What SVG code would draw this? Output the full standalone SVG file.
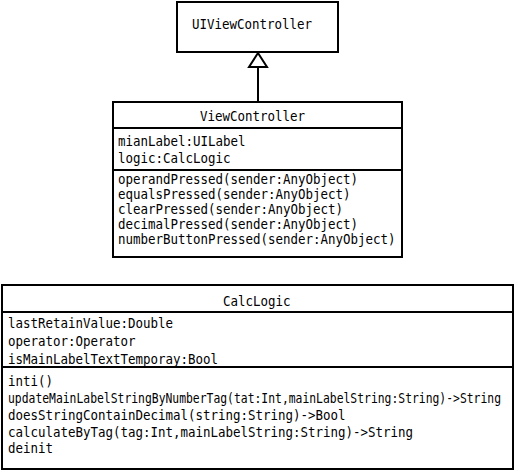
<svg xmlns="http://www.w3.org/2000/svg" width="515" height="471" viewBox="0 0 515 471">
<style>
.box{fill:#fff;stroke:#000;stroke-width:2}
.ln{stroke:#000;stroke-width:2;fill:none}
text{font-family:"DejaVu Sans Mono","Liberation Mono",monospace;font-size:14.5px;fill:#000}
</style>
<rect width="515" height="471" fill="#fff"/>
<g id="connectors">
<line class="ln" x1="258" y1="102" x2="258" y2="67"/>
<path d="M258,53 L267,67 L249,67 Z" fill="#fff" stroke="#000" stroke-width="2"/>
</g>
<g id="UIViewController">
<rect class="box" x="177" y="2" width="161" height="50"/>
<text x="192" y="29" textLength="120" lengthAdjust="spacingAndGlyphs">UIViewController</text>
</g>
<g id="ViewController">
<rect class="box" x="113" y="102" width="289" height="155"/>
<line class="ln" x1="113" y1="128" x2="402" y2="128"/>
<line class="ln" x1="113" y1="170" x2="402" y2="170"/>
<text x="200" y="121" textLength="105" lengthAdjust="spacingAndGlyphs">ViewController</text>
<text x="118" y="145.5" textLength="127.5" lengthAdjust="spacingAndGlyphs">mianLabel:UILabel</text>
<text x="118" y="163" textLength="112.5" lengthAdjust="spacingAndGlyphs">logic:CalcLogic</text>
<text x="118" y="184" textLength="240" lengthAdjust="spacingAndGlyphs">operandPressed(sender:AnyObject)</text>
<text x="118" y="199" textLength="232.5" lengthAdjust="spacingAndGlyphs">equalsPressed(sender:AnyObject)</text>
<text x="118" y="214" textLength="225" lengthAdjust="spacingAndGlyphs">clearPressed(sender:AnyObject)</text>
<text x="118" y="229" textLength="240" lengthAdjust="spacingAndGlyphs">decimalPressed(sender:AnyObject)</text>
<text x="118" y="244" textLength="277.5" lengthAdjust="spacingAndGlyphs">numberButtonPressed(sender:AnyObject)</text>
</g>
<g id="CalcLogic">
<rect class="box" x="2" y="285" width="511" height="184"/>
<line class="ln" x1="2" y1="312" x2="513" y2="312"/>
<line class="ln" x1="2" y1="367" x2="513" y2="367"/>
<text x="223" y="306" textLength="67.5" lengthAdjust="spacingAndGlyphs">CalcLogic</text>
<text x="8" y="328" textLength="165" lengthAdjust="spacingAndGlyphs">lastRetainValue:Double</text>
<text x="8" y="346" textLength="127.5" lengthAdjust="spacingAndGlyphs">operator:Operator</text>
<text x="8" y="364" textLength="210" lengthAdjust="spacingAndGlyphs">isMainLabelTextTemporay:Bool</text>
<text x="8" y="386" textLength="45" lengthAdjust="spacingAndGlyphs">inti()</text>
<text x="8" y="403" textLength="493" lengthAdjust="spacingAndGlyphs">updateMainLabelStringByNumberTag(tat:Int,mainLabelString:String)-&gt;String</text>
<text x="8" y="420" textLength="337.5" lengthAdjust="spacingAndGlyphs">doesStringContainDecimal(string:String)-&gt;Bool</text>
<text x="8" y="437" textLength="405" lengthAdjust="spacingAndGlyphs">calculateByTag(tag:Int,mainLabelString:String)-&gt;String</text>
<text x="8" y="453" textLength="45" lengthAdjust="spacingAndGlyphs">deinit</text>
</g>
</svg>
